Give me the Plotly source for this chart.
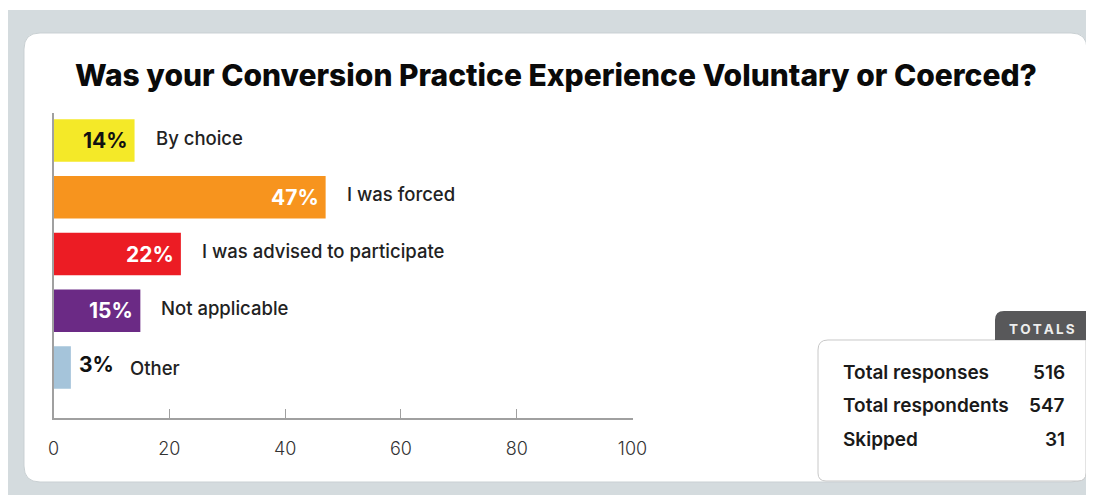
"""Survey bar chart: voluntary or coerced conversion practice."""

import plotly.graph_objects as go

# the page has an 8px body margin on the top/left; positions below are page pixels
OFF = 8
W, H = 1094 - OFF, 495 - OFF

categories = ["By choice", "I was forced", "I was advised to participate", "Not applicable", "Other"]
percents = [14, 47, 22, 15, 3]
bar_colors = ["#F4E928", "#F7941E", "#EC1C24", "#6B2A85", "#A5C4DA"]
label_colors = ["#111111", "#FFFFFF", "#FFFFFF", "#FFFFFF", "#111111"]

totals_labels = ["Total responses", "Total respondents", "Skipped"]
totals_values = [516, 547, 31]

FONT = "Inter"


def px(x):
    return (x - OFF) / W


def py(y):
    return 1 - (y - OFF) / H


def rounded_rect(x0, y0, x1, y1, r_tl=0, r_tr=0, r_br=0, r_bl=0):
    """Path in paper units for a rectangle given in page pixels (y downwards)."""
    def p(x, y):
        return f"{px(x):.5f},{py(y):.5f}"
    return (
        f"M {p(x0 + r_tl, y0)} L {p(x1 - r_tr, y0)} Q {p(x1, y0)} {p(x1, y0 + r_tr)} "
        f"L {p(x1, y1 - r_br)} Q {p(x1, y1)} {p(x1 - r_br, y1)} "
        f"L {p(x0 + r_bl, y1)} Q {p(x0, y1)} {p(x0, y1 - r_bl)} "
        f"L {p(x0, y0 + r_tl)} Q {p(x0, y0)} {p(x0 + r_tl, y0)} Z"
    )


fig = go.Figure()

fig.add_trace(
    go.Bar(
        x=percents,
        y=categories,
        orientation="h",
        marker={"color": bar_colors, "line": {"width": 0}},
        width=0.75,
        hoverinfo="skip",
    )
)

# percent labels and category labels
for cat, val, col in zip(categories, percents, label_colors):
    inside = val >= 10
    fig.add_annotation(
        x=val, y=cat, xref="x", yref="y",
        text=f"{val}%",
        showarrow=False,
        xanchor="right" if inside else "left",
        xshift=-5 if inside else 6,
        yshift=0 if inside else 3,
        font={"family": FONT, "size": 21, "color": col, "weight": 700},
    )
    fig.add_annotation(
        x=val, y=cat, xref="x", yref="y",
        text=cat,
        showarrow=False,
        xanchor="left",
        xshift=19 if inside else 57,
        yshift=3 if inside else 0,
        font={"family": FONT, "size": 18.5, "color": "#222222", "weight": 500},
    )

shapes = [
    # gray backdrop
    dict(type="rect", xref="paper", yref="paper", x0=px(5), x1=px(1100), y0=py(500), y1=py(10),
         fillcolor="#D4DBDE", line={"width": 0}, layer="below"),
    # white card
    dict(type="path", xref="paper", yref="paper",
         path=rounded_rect(24, 33, 1087, 482, 16, 16, 16, 16),
         fillcolor="#FFFFFF", line={"color": "#C9D0D3", "width": 1}, layer="below"),
    # totals box
    dict(type="path", xref="paper", yref="paper",
         path=rounded_rect(818, 340, 1086, 481, 10, 0, 8, 8),
         fillcolor="#FFFFFF", line={"color": "#C8C8C8", "width": 1}, layer="above"),
    # totals tab
    dict(type="path", xref="paper", yref="paper",
         path=rounded_rect(995, 311, 1087, 340, 9, 0, 0, 0),
         fillcolor="#58585A", line={"width": 0}, layer="above"),
]

annotations = [
    dict(x=px(556), y=py(75), xref="paper", yref="paper",
         text="Was your Conversion Practice Experience Voluntary or Coerced?",
         showarrow=False, xanchor="center", yanchor="middle",
         font={"family": FONT, "size": 30, "color": "#0A0A0A", "weight": 800}),
    dict(x=px(1042), y=py(329), xref="paper", yref="paper", text="\u2009".join("TOTALS"),
         showarrow=False, xanchor="center", yanchor="middle",
         font={"family": FONT, "size": 13.5, "color": "#EDEDED", "weight": 700}),
]
for i, (lab, val) in enumerate(zip(totals_labels, totals_values)):
    yy = 372 + i * 33.5
    annotations.append(dict(x=px(841), y=py(yy), xref="paper", yref="paper", text=lab,
                            showarrow=False, xanchor="left", yanchor="middle",
                            font={"family": FONT, "size": 19, "color": "#1A1A1A", "weight": 600}))
    annotations.append(dict(x=px(1067), y=py(yy), xref="paper", yref="paper", text=str(val),
                            showarrow=False, xanchor="right", yanchor="middle",
                            font={"family": FONT, "size": 19, "color": "#1A1A1A", "weight": 600}))

for a in annotations:
    fig.add_annotation(**a)

fig.update_layout(
    width=W,
    height=H,
    margin={"l": 0, "r": 0, "t": 0, "b": 0, "pad": 0},
    paper_bgcolor="#FFFFFF",
    plot_bgcolor="rgba(0,0,0,0)",
    showlegend=False,
    shapes=shapes,
    xaxis={
        "domain": [px(53.5), px(632.5)],
        "range": [0, 100],
        "tickvals": [0, 20, 40, 60, 80, 100],
        "ticks": "inside",
        "ticklen": 9,
        "tickcolor": "#A0A0A0",
        "showline": True,
        "linecolor": "#A0A0A0",
        "linewidth": 1.5,
        "showgrid": False,
        "zeroline": False,
        "automargin": False,
        "ticklabelstandoff": 14,
        "tickfont": {"family": FONT, "size": 18, "color": "#333333", "weight": 300},
        "fixedrange": True,
    },
    yaxis={
        "domain": [py(418), py(113)],
        "range": [4.89, -0.485],
        "showticklabels": False,
        "ticks": "",
        "showline": True,
        "linecolor": "#A0A0A0",
        "linewidth": 1.5,
        "showgrid": False,
        "zeroline": False,
        "automargin": False,
        "fixedrange": True,
    },
)

fig.write_html("out.html")
